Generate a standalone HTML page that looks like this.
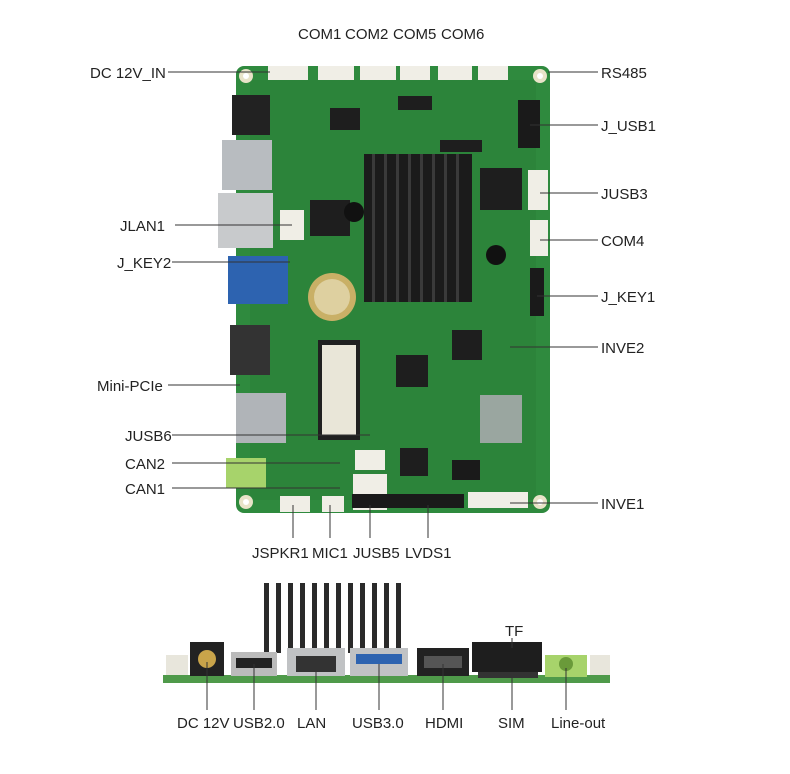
<!DOCTYPE html>
<html><head><meta charset="utf-8"><style>
html,body{margin:0;padding:0;background:#fff;}
svg{display:block}
text{font-family:"Liberation Sans",sans-serif;font-size:15px;fill:#222;}
</style></head><body>
<svg width="790" height="774" viewBox="0 0 790 774">
<!-- board -->
<rect x="236" y="66" width="314" height="447" rx="8" fill="#2f8a3e"/>
<rect x="250" y="80" width="286" height="420" fill="#2b8039" opacity=".6"/>
<!-- mounting holes -->
<g fill="#e8e3c8"><circle cx="246" cy="76" r="7"/><circle cx="540" cy="76" r="7"/><circle cx="246" cy="502" r="7"/><circle cx="540" cy="502" r="7"/></g>
<g fill="#fff"><circle cx="246" cy="76" r="3"/><circle cx="540" cy="76" r="3"/><circle cx="246" cy="502" r="3"/><circle cx="540" cy="502" r="3"/></g>
<!-- left edge connectors -->
<rect x="232" y="95" width="38" height="40" fill="#222"/>
<rect x="222" y="140" width="50" height="50" fill="#b8bcc0"/>
<rect x="218" y="193" width="55" height="55" fill="#c8cacc"/>
<rect x="228" y="256" width="60" height="48" fill="#2d63b0"/>
<rect x="230" y="325" width="40" height="50" fill="#333"/>
<rect x="236" y="393" width="50" height="50" fill="#b0b4b8"/>
<rect x="226" y="458" width="40" height="30" fill="#a7d36b"/>
<!-- top connectors -->
<g fill="#f0eee6">
<rect x="268" y="66" width="40" height="14"/><rect x="318" y="66" width="36" height="14"/>
<rect x="360" y="66" width="36" height="14"/><rect x="400" y="66" width="30" height="14"/>
<rect x="438" y="66" width="34" height="14"/><rect x="478" y="66" width="30" height="14"/>
<rect x="528" y="170" width="20" height="40"/><rect x="530" y="220" width="18" height="36"/>
<rect x="468" y="492" width="60" height="16"/><rect x="280" y="496" width="30" height="16"/>
<rect x="355" y="450" width="30" height="20"/><rect x="355" y="474" width="30" height="20"/>
<rect x="322" y="496" width="22" height="16"/><rect x="353" y="474" width="34" height="36"/>
<rect x="280" y="210" width="24" height="30"/>
</g>
<!-- headers -->
<rect x="518" y="100" width="22" height="48" fill="#1a1a1a"/>
<rect x="530" y="268" width="14" height="48" fill="#1a1a1a"/>
<rect x="352" y="494" width="112" height="14" fill="#1a1a1a"/>
<rect x="452" y="460" width="28" height="20" fill="#1a1a1a"/>
<!-- chips -->
<g fill="#1e1e1e">
<rect x="480" y="168" width="42" height="42"/><rect x="396" y="355" width="32" height="32"/>
<rect x="452" y="330" width="30" height="30"/><rect x="400" y="448" width="28" height="28"/>
<rect x="330" y="108" width="30" height="22"/><rect x="398" y="96" width="34" height="14"/>
<rect x="310" y="200" width="40" height="36"/><rect x="440" y="140" width="42" height="12"/>
</g>
<rect x="480" y="395" width="42" height="48" fill="#9aa6a0"/>
<rect x="318" y="340" width="42" height="100" fill="#202020"/>
<rect x="322" y="345" width="34" height="90" fill="#e9e6d8"/>
<circle cx="332" cy="297" r="24" fill="#c9b066"/>
<circle cx="332" cy="297" r="18" fill="#ded0a0"/>
<circle cx="496" cy="255" r="10" fill="#111"/>
<circle cx="354" cy="212" r="10" fill="#111"/>
<!-- heatsink -->
<rect x="364" y="154" width="108" height="148" fill="#1b1b1b"/>
<g fill="#3a3a3a">
<rect x="372" y="154" width="3" height="148"/><rect x="384" y="154" width="3" height="148"/>
<rect x="396" y="154" width="3" height="148"/><rect x="408" y="154" width="3" height="148"/>
<rect x="420" y="154" width="3" height="148"/><rect x="432" y="154" width="3" height="148"/>
<rect x="444" y="154" width="3" height="148"/><rect x="456" y="154" width="3" height="148"/>
</g>
<!-- leader lines -->
<g stroke="#333" stroke-width="1" fill="none">
<line x1="168" y1="72" x2="270" y2="72"/><line x1="548" y1="72" x2="598" y2="72"/>
<line x1="530" y1="125" x2="598" y2="125"/><line x1="540" y1="193" x2="598" y2="193"/>
<line x1="175" y1="225" x2="292" y2="225"/><line x1="540" y1="240" x2="598" y2="240"/>
<line x1="172" y1="262" x2="290" y2="262"/><line x1="537" y1="296" x2="598" y2="296"/>
<line x1="510" y1="347" x2="598" y2="347"/><line x1="168" y1="385" x2="240" y2="385"/>
<line x1="172" y1="435" x2="370" y2="435"/><line x1="172" y1="463" x2="340" y2="463"/>
<line x1="172" y1="488" x2="340" y2="488"/><line x1="510" y1="503" x2="598" y2="503"/>
<line x1="293" y1="505" x2="293" y2="538"/><line x1="330" y1="505" x2="330" y2="538"/>
<line x1="370" y1="505" x2="370" y2="538"/><line x1="428" y1="505" x2="428" y2="538"/>
</g>
<!-- labels -->
<text x="298" y="39">COM1</text><text x="345" y="39">COM2</text><text x="393" y="39">COM5</text><text x="441" y="39">COM6</text>
<text x="90" y="78">DC 12V_IN</text><text x="601" y="78">RS485</text>
<text x="601" y="131">J_USB1</text><text x="601" y="199">JUSB3</text>
<text x="120" y="231">JLAN1</text><text x="601" y="246">COM4</text>
<text x="117" y="268">J_KEY2</text><text x="601" y="302">J_KEY1</text>
<text x="601" y="353">INVE2</text><text x="97" y="391">Mini-PCIe</text>
<text x="125" y="441">JUSB6</text><text x="125" y="469">CAN2</text><text x="125" y="494">CAN1</text>
<text x="601" y="509">INVE1</text>
<text x="252" y="558">JSPKR1</text><text x="312" y="558">MIC1</text><text x="353" y="558">JUSB5</text><text x="405" y="558">LVDS1</text>
<!-- side view -->
<g fill="#2a2a2a">
<rect x="264" y="583" width="5" height="70"/><rect x="276" y="583" width="5" height="70"/>
<rect x="288" y="583" width="5" height="70"/><rect x="300" y="583" width="5" height="70"/>
<rect x="312" y="583" width="5" height="70"/><rect x="324" y="583" width="5" height="70"/>
<rect x="336" y="583" width="5" height="70"/><rect x="348" y="583" width="5" height="70"/>
<rect x="360" y="583" width="5" height="70"/><rect x="372" y="583" width="5" height="70"/>
<rect x="384" y="583" width="5" height="70"/><rect x="396" y="583" width="5" height="70"/>
</g>
<rect x="163" y="675" width="447" height="8" fill="#4f9a4a"/>
<rect x="166" y="655" width="22" height="20" fill="#e8e6dc"/>
<rect x="190" y="642" width="34" height="34" fill="#222"/>
<circle cx="207" cy="659" r="9" fill="#c9a44a"/>
<rect x="231" y="652" width="46" height="24" fill="#bbb"/><rect x="236" y="658" width="36" height="10" fill="#222"/>
<rect x="287" y="648" width="58" height="28" fill="#c0c2c4"/><rect x="296" y="656" width="40" height="16" fill="#333"/>
<rect x="350" y="648" width="58" height="28" fill="#c0c2c4"/><rect x="356" y="654" width="46" height="10" fill="#2d63b0"/>
<rect x="417" y="648" width="52" height="28" fill="#222"/><rect x="424" y="656" width="38" height="12" fill="#555"/>
<rect x="472" y="642" width="70" height="30" fill="#1e1e1e"/>
<rect x="478" y="672" width="60" height="6" fill="#333"/>
<rect x="545" y="655" width="42" height="22" fill="#a7d36b"/><circle cx="566" cy="664" r="7" fill="#6a9a3a"/>
<rect x="590" y="655" width="20" height="20" fill="#e8e6dc"/>
<g stroke="#333" stroke-width="1">
<line x1="207" y1="662" x2="207" y2="710"/><line x1="254" y1="664" x2="254" y2="710"/>
<line x1="316" y1="664" x2="316" y2="710"/><line x1="379" y1="664" x2="379" y2="710"/>
<line x1="443" y1="664" x2="443" y2="710"/><line x1="512" y1="678" x2="512" y2="710"/>
<line x1="566" y1="668" x2="566" y2="710"/><line x1="512" y1="638" x2="512" y2="648"/>
</g>
<text x="505" y="636">TF</text>
<text x="177" y="728">DC 12V</text><text x="233" y="728">USB2.0</text><text x="297" y="728">LAN</text>
<text x="352" y="728">USB3.0</text><text x="425" y="728">HDMI</text><text x="498" y="728">SIM</text><text x="551" y="728">Line-out</text>
</svg>
</body></html>
